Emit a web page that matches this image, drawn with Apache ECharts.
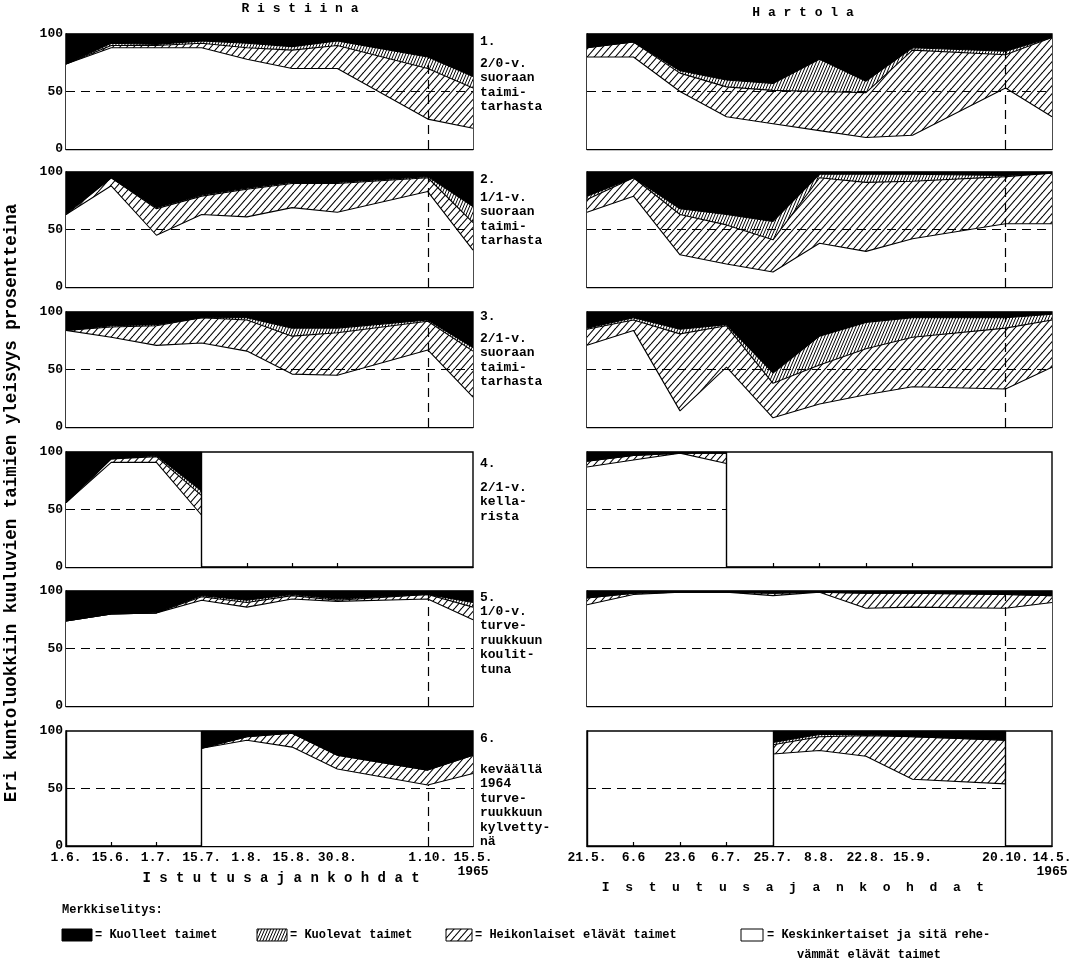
<!DOCTYPE html>
<html>
<head>
<meta charset="utf-8">
<script src="https://cdn.jsdelivr.net/npm/echarts@6/dist/echarts.min.js"></script>
<style>html,body{margin:0;padding:0;background:#fff;}#c{width:1078px;height:980px;}</style>
</head>
<body>
<div id="c"></div>
<script>
// ---- axes / categories ----
const ristiinaX = [0, 1, 2, 3, 4, 5, 6, 8, 9];
const ristiinaLabels = ['1.6.', '15.6.', '1.7.', '15.7.', '1.8.', '15.8.', '30.8.', '1.10.', '15.5.\n1965'];
const hartolaX = [0, 1, 2, 3, 4, 5, 6, 7, 9, 10];
const hartolaLabels = ['21.5.', '6.6', '23.6', '6.7.', '25.7.', '8.8.', '22.8.', '15.9.', '20.10.', '14.5.\n1965'];
const yTicks = [0, 50, 100];

// ---- Ristiina (left) : percentages per class ----
// 1. 2/0-v. suoraan taimitarhasta
const ris1_keskink  = [74, 88, 88, 88, 78, 70, 70, 26, 18];
const ris1_heikon   = [0, 2, 2, 4, 10, 16, 20, 44, 35];
const ris1_kuolevat = [0, 2, 1, 2, 4, 3, 4, 10, 10];
const ris1_kuolleet = [26, 8, 9, 6, 8, 11, 6, 20, 37];
// 2. 1/1-v.
const ris2_keskink  = [63, 88, 45, 63, 61, 69, 65, 83, 32];
const ris2_heikon   = [0, 7, 23, 16, 24, 21, 25, 12, 24];
const ris2_kuolevat = [1, 0, 1, 1, 1, 1, 1, 1, 14];
const ris2_kuolleet = [36, 5, 31, 20, 14, 9, 9, 4, 30];
// 3. 2/1-v.
const ris3_keskink  = [84, 78, 71, 73, 66, 46, 45, 67, 26];
const ris3_heikon   = [0, 9, 17, 22, 27, 33, 37, 25, 40];
const ris3_kuolevat = [0, 1, 1, 0, 2, 7, 4, 1, 3];
const ris3_kuolleet = [16, 12, 11, 5, 5, 14, 14, 7, 31];
// 4. 2/1-v. kellarista (1.6.-15.7.)
const ris4_x        = [0, 1, 2, 3];
const ris4_keskink  = [56, 91, 91, 45];
const ris4_heikon   = [0, 3, 5, 17];
const ris4_kuolevat = [0, 0, 1, 4];
const ris4_kuolleet = [44, 6, 3, 34];
// 5. 1/0-v. turveruukkuun koulittuna
const ris5_keskink  = [74, 80, 81, 92, 86, 93, 91, 93, 75];
const ris5_heikon   = [0, 0, 0, 3, 4, 3, 1, 4, 11];
const ris5_kuolevat = [0, 0, 0, 1, 2, 1, 1, 0, 4];
const ris5_kuolleet = [26, 20, 19, 4, 8, 3, 7, 3, 10];
// 6. keväällä 1964 turveruukkuun kylvettynä (15.7.-15.5.)
const ris6_x        = [3, 4, 5, 6, 8, 9];
const ris6_keskink  = [85, 92, 86, 67, 53, 63];
const ris6_heikon   = [0, 3, 12, 12, 13, 16];
const ris6_kuolevat = [0, 0, 0, 0, 0, 0];
const ris6_kuolleet = [15, 5, 2, 21, 34, 21];

// ---- Hartola (right) ----
const har1_keskink  = [80, 80, 50, 28, 22, 16, 10, 12, 53, 28];
const har1_heikon   = [8, 13, 16, 26, 29, 34, 39, 74, 29, 69];
const har1_kuolevat = [0, 0, 2, 6, 6, 28, 10, 2, 3, 0];
const har1_kuolleet = [12, 7, 32, 40, 43, 22, 41, 12, 15, 3];

const har2_keskink  = [65, 79, 28, 20, 13, 38, 31, 42, 55, 55];
const har2_heikon   = [11, 16, 35, 34, 28, 57, 60, 50, 41, 44];
const har2_kuolevat = [3, 0, 5, 9, 16, 3, 7, 6, 1, 0];
const har2_kuolleet = [21, 5, 32, 37, 43, 2, 2, 2, 3, 1];

const har3_keskink  = [71, 84, 14, 52, 8, 20, 28, 35, 33, 52];
const har3_heikon   = [14, 9, 67, 36, 30, 34, 40, 43, 53, 41];
const har3_kuolevat = [1, 2, 4, 1, 9, 25, 23, 17, 9, 5];
const har3_kuolleet = [14, 5, 15, 11, 53, 21, 9, 5, 5, 2];

const har4_x        = [0, 1, 2, 3];
const har4_keskink  = [87, 93, 99, 90];
const har4_heikon   = [5, 4, 0, 9];
const har4_kuolevat = [0, 0, 0, 0];
const har4_kuolleet = [8, 3, 1, 1];

const har5_keskink  = [88, 97, 99, 99, 96, 99, 85, 86, 85, 90];
const har5_heikon   = [6, 1, 0, 0, 2, 0, 13, 12, 12, 6];
const har5_kuolevat = [0, 0, 0, 0, 0, 0, 0, 0, 0, 0];
const har5_kuolleet = [6, 2, 1, 1, 2, 1, 2, 2, 3, 4];

const har6_x        = [4, 5, 6, 7, 9];
const har6_keskink  = [80, 83, 78, 58, 54];
const har6_heikon   = [8, 12, 18, 37, 38];
const har6_kuolevat = [2, 2, 1, 0, 0];
const har6_kuolleet = [10, 3, 3, 5, 8];

const panelTexts = [
  ['1.', '2/0-v.\nsuoraan\ntaimi-\ntarhasta'],
  ['2.', '1/1-v.\nsuoraan\ntaimi-\ntarhasta'],
  ['3.', '2/1-v.\nsuoraan\ntaimi-\ntarhasta'],
  ['4.', '2/1-v.\nkella-\nrista'],
  ['5.', '1/0-v.\nturve-\nruukkuun\nkoulit-\ntuna'],
  ['6.', 'keväällä\n1964\nturve-\nruukkuun\nkylvetty-\nnä']
];
const legendTexts = ['Kuolleet taimet', 'Kuolevat taimet', 'Heikonlaiset elävät taimet', 'Keskinkertaiset ja sitä rehe-', 'vämmät elävät taimet'];

// ---- layout ----
const FONT = '"Liberation Mono", "DejaVu Sans Mono", monospace';
const rowTops = [34, 172, 312, 452, 591, 731];
const rowH = 115;
const colLeft = [66, 587];
const colW = [407, 465];
const numTextY = [42, 180, 317, 464, 598, 739];
const blockTextY = [63, 197, 338, 487, 611, 769];

function makeHatch(w, h, lw) {
  const c = document.createElement('canvas');
  c.width = w; c.height = h;
  const g = c.getContext('2d');
  g.fillStyle = '#fff'; g.fillRect(0, 0, w, h);
  g.strokeStyle = '#000'; g.lineWidth = lw;
  for (const dx of [-w, 0, w]) {
    g.beginPath(); g.moveTo(dx, h); g.lineTo(dx + w, 0); g.stroke();
  }
  return c;
}
const sparse = { image: makeHatch(7, 8, 1.1), repeat: 'repeat' };
const dense = { image: makeHatch(3, 7, 1.0), repeat: 'repeat' };

const panels = [
  { g: 0, xs: ristiinaX, d: [ris1_keskink, ris1_heikon, ris1_kuolevat, ris1_kuolleet] },
  { g: 1, xs: hartolaX, d: [har1_keskink, har1_heikon, har1_kuolevat, har1_kuolleet] },
  { g: 2, xs: ristiinaX, d: [ris2_keskink, ris2_heikon, ris2_kuolevat, ris2_kuolleet] },
  { g: 3, xs: hartolaX, d: [har2_keskink, har2_heikon, har2_kuolevat, har2_kuolleet] },
  { g: 4, xs: ristiinaX, d: [ris3_keskink, ris3_heikon, ris3_kuolevat, ris3_kuolleet] },
  { g: 5, xs: hartolaX, d: [har3_keskink, har3_heikon, har3_kuolevat, har3_kuolleet] },
  { g: 6, xs: ris4_x, d: [ris4_keskink, ris4_heikon, ris4_kuolevat, ris4_kuolleet] },
  { g: 7, xs: har4_x, d: [har4_keskink, har4_heikon, har4_kuolevat, har4_kuolleet] },
  { g: 8, xs: ristiinaX, d: [ris5_keskink, ris5_heikon, ris5_kuolevat, ris5_kuolleet] },
  { g: 9, xs: hartolaX, d: [har5_keskink, har5_heikon, har5_kuolevat, har5_kuolleet] },
  { g: 10, xs: ris6_x, d: [ris6_keskink, ris6_heikon, ris6_kuolevat, ris6_kuolleet] },
  { g: 11, xs: har6_x, d: [har6_keskink, har6_heikon, har6_kuolevat, har6_kuolleet] }
];
const fills = ['#fff', sparse, dense, '#000'];

// reference lines per grid: [x1,y1,x2,y2,dashed]
const refLines = {
  0: [[0, 50, 9, 50, 1], [8, 0, 8, 100, 1]],
  2: [[0, 50, 9, 50, 1], [8, 0, 8, 100, 1]],
  4: [[0, 50, 9, 50, 1], [8, 0, 8, 100, 1]],
  6: [[0, 50, 3, 50, 1], [3, 0, 3, 100, 0]],
  8: [[0, 50, 9, 50, 1], [8, 0, 8, 100, 1]],
  10: [[0, 50, 9, 50, 1], [8, 0, 8, 53, 1], [3, 0, 3, 100, 0]],
  1: [[0, 50, 10, 50, 1], [9, 0, 9, 100, 1]],
  3: [[0, 50, 10, 50, 1], [9, 0, 9, 100, 1]],
  5: [[0, 50, 10, 50, 1], [9, 0, 9, 100, 1]],
  7: [[0, 50, 3, 50, 1], [3, 0, 3, 100, 0]],
  9: [[0, 50, 10, 50, 1], [9, 0, 9, 100, 1]],
  11: [[0, 50, 9, 50, 1], [4, 0, 4, 100, 0], [9, 0, 9, 100, 0]]
};

const grids = [], xAxes = [], yAxes = [], series = [];
for (let r = 0; r < 6; r++) {
  for (let c = 0; c < 2; c++) {
    const gi = r * 2 + c;
    grids.push({ left: colLeft[c], top: rowTops[r], width: colW[c], height: rowH,
      show: true, borderColor: '#000', borderWidth: 1.4, backgroundColor: '#fff', containLabel: false });
    const xs = c === 0 ? ristiinaX : hartolaX;
    const labels = c === 0 ? ristiinaLabels : hartolaLabels;
    const innerTicks = c === 0 ? [1, 2, 3, 4, 5, 6] : [1, 2, 3, 4, 5, 6, 7];
    xAxes.push({ type: 'value', gridIndex: gi, min: 0, max: c === 0 ? 9 : 10,
      axisLine: { show: true, lineStyle: { color: '#000', width: 1.4 } },
      axisTick: { show: true, inside: true, length: 4, customValues: innerTicks, lineStyle: { color: '#000', width: 1.2 } },
      splitLine: { show: false },
      axisLabel: { show: r === 5, customValues: xs, margin: 5,
        formatter: v => labels[xs.indexOf(v)] || '',
        color: '#000', fontFamily: FONT, fontWeight: 'bold', fontSize: 13, lineHeight: 14 } });
    yAxes.push({ type: 'value', gridIndex: gi, min: 0, max: 100, interval: 50,
      axisLine: { show: true, lineStyle: { color: '#000', width: 1.4 } },
      axisTick: { show: false }, splitLine: { show: false },
      axisLabel: { show: c === 0, customValues: yTicks, margin: 3,
        color: '#000', fontFamily: FONT, fontWeight: 'bold', fontSize: 13 } });
  }
}

panels.forEach(p => {
  // cumulative class boundaries built from the class arrays (bottom -> top)
  const cum = [];
  let run = p.xs.map(() => 0);
  p.d.forEach(arr => { run = run.map((v, i) => v + arr[i]); cum.push(run.slice()); });
  // draw from top layer down so each lower layer covers the one above it
  for (let k = 3; k >= 0; k--) {
    series.push({ type: 'line', xAxisIndex: p.g, yAxisIndex: p.g,
      data: p.xs.map((x, i) => [x, cum[k][i]]), symbol: 'none', showSymbol: false,
      lineStyle: { color: '#000', width: 1.1 }, areaStyle: { color: fills[k], opacity: 1, origin: 'start' },
      silent: true, animation: false, z: 2 });
  }
  const lines = refLines[p.g].map(l => [
    { coord: [l[0], l[1]], lineStyle: { type: l[4] ? [9, 6] : 'solid', width: l[4] ? 1.2 : 1.4, color: '#000' } },
    { coord: [l[2], l[3]] }
  ]);
  series.push({ type: 'line', xAxisIndex: p.g, yAxisIndex: p.g, data: [[0, 0]], symbol: 'none',
    lineStyle: { opacity: 0 }, silent: true, animation: false, z: 5,
    markLine: { silent: true, symbol: ['none', 'none'], label: { show: false }, animation: false, data: lines } });
});

const txt = (x, y, text, extra) => ({ type: 'text', x, y, silent: true, z: 20,
  style: Object.assign({ text, fill: '#000', font: 'bold 13px ' + FONT, verticalAlign: 'middle', align: 'left' }, extra || {}) });

const graphics = [];
graphics.push(txt(300, 9, 'R i s t i i n a', { align: 'center' }));
graphics.push(txt(803, 13, 'H a r t o l a', { align: 'center' }));
for (let r = 0; r < 6; r++) {
  graphics.push(txt(480, numTextY[r], panelTexts[r][0]));
  graphics.push(txt(480, blockTextY[r] - 7, panelTexts[r][1], { verticalAlign: 'top', lineHeight: 14.5 }));
}
graphics.push({ type: 'text', x: 12, y: 503, rotation: Math.PI / 2, silent: true,
  style: { text: 'Eri kuntoluokkiin kuuluvien taimien yleisyys prosentteina', fill: '#000',
    font: 'bold 17.5px ' + FONT, align: 'center', verticalAlign: 'middle' } });
graphics.push(txt(281, 878, 'I s t u t u s a j a n k o h d a t', { align: 'center', font: 'bold 14px ' + FONT }));
graphics.push(txt(793, 888, 'I  s  t  u  t  u  s  a  j  a  n  k  o  h  d  a  t', { align: 'center', font: 'bold 13px ' + FONT }));
// legend
graphics.push(txt(62, 910, 'Merkkiselitys:', { font: 'bold 12px ' + FONT }));
graphics.push({ type: 'rect', shape: { x: 62, y: 929, width: 30, height: 12 }, style: { fill: '#000', stroke: '#000' }, silent: true });
graphics.push(txt(95, 935, '= ' + legendTexts[0], { font: 'bold 12px ' + FONT }));
graphics.push({ type: 'rect', shape: { x: 257, y: 929, width: 30, height: 12 }, style: { fill: dense, stroke: '#000', lineWidth: 1 }, silent: true });
graphics.push(txt(290, 935, '= ' + legendTexts[1], { font: 'bold 12px ' + FONT }));
graphics.push({ type: 'rect', shape: { x: 446, y: 929, width: 26, height: 12 }, style: { fill: sparse, stroke: '#000', lineWidth: 1 }, silent: true });
graphics.push(txt(475, 935, '= ' + legendTexts[2], { font: 'bold 12px ' + FONT }));
graphics.push({ type: 'rect', shape: { x: 741, y: 929, width: 22, height: 12 }, style: { fill: '#fff', stroke: '#000', lineWidth: 1 }, silent: true });
graphics.push(txt(767, 935, '= ' + legendTexts[3], { font: 'bold 12px ' + FONT }));
graphics.push(txt(797, 955, legendTexts[4], { font: 'bold 12px ' + FONT }));

const chart = echarts.init(document.getElementById('c'), null, { renderer: 'canvas' });
chart.setOption({
  animation: false,
  backgroundColor: '#fff',
  grid: grids, xAxis: xAxes, yAxis: yAxes, series,
  graphic: graphics
});
</script>
</body>
</html>
